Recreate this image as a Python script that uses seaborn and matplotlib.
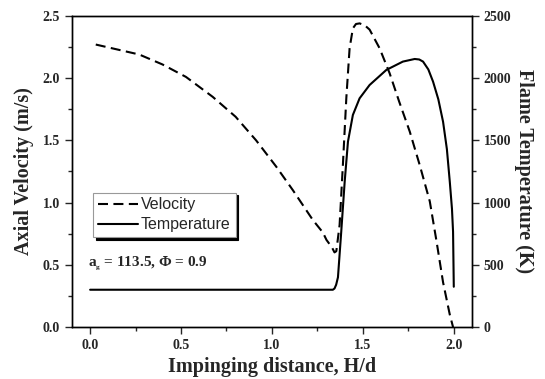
import numpy as np
import pandas as pd
import seaborn as sns
import matplotlib
matplotlib.use("Agg")
import matplotlib.pyplot as plt
from matplotlib.ticker import MultipleLocator

sns.set_style("ticks")
plt.rcParams['font.family'] = ['Liberation Serif', 'DejaVu Serif']
plt.rcParams['mathtext.fontset'] = 'custom'
plt.rcParams['mathtext.rm'] = 'Liberation Serif:bold'
plt.rcParams['mathtext.it'] = 'Liberation Serif:bold'
plt.rcParams['mathtext.bf'] = 'Liberation Serif:bold'

# Velocity (m/s) vs H/d
vel_x = [0.031, 0.27, 0.398, 0.527, 0.674, 0.80, 0.913, 1.023, 1.115, 1.225, 1.28, 1.30,
         1.33, 1.344, 1.354, 1.372, 1.39, 1.409, 1.427, 1.445, 1.462, 1.482, 1.51,
         1.537, 1.592, 1.647, 1.70, 1.758, 1.813, 1.868, 1.905, 1.941, 1.978, 1.996]
vel_y = [2.27, 2.19, 2.11, 2.01, 1.85, 1.69, 1.50, 1.29, 1.10, 0.86, 0.76, 0.70,
         0.64, 0.60, 0.61, 0.82, 1.30, 1.84, 2.24, 2.40, 2.435, 2.44, 2.425,
         2.39, 2.24, 2.04, 1.81, 1.57, 1.30, 1.01, 0.69, 0.36, 0.10, 0.0]

# Flame temperature (K) vs H/d
temp_x = [0.0, 0.5, 1.0, 1.335, 1.344, 1.353, 1.363, 1.381, 1.40, 1.418, 1.445, 1.482,
          1.537, 1.629, 1.72, 1.785, 1.81, 1.831, 1.86, 1.886, 1.915, 1.941, 1.962,
          1.978, 1.99, 1.996, 2.0]
temp_y = [300, 300, 300, 300, 310, 340, 400, 766, 1168, 1490, 1704, 1838,
          1945, 2066, 2133, 2154, 2150, 2133, 2070, 1972, 1830, 1650, 1430,
          1168, 950, 766, 324]

vel_df = pd.DataFrame({"H/d": vel_x, "Velocity": vel_y})
temp_df = pd.DataFrame({"H/d": temp_x, "Temperature": temp_y})

fig = plt.figure(figsize=(5.45, 3.79), dpi=100)
ax = fig.add_axes([0.132, 0.137, 0.734, 0.821])
ax2 = ax.twinx()

sns.lineplot(data=vel_df, x="H/d", y="Velocity", ax=ax, color="black",
             linewidth=1.5, label="Velocity", legend=False, sort=False)
ax.lines[0].set_dashes([4.8, 2.6])
sns.lineplot(data=temp_df, x="H/d", y="Temperature", ax=ax2, color="black",
             linewidth=1.5, label="Temperature", legend=False, sort=False)

ax.xaxis.set_minor_locator(MultipleLocator(0.25))
ax.yaxis.set_minor_locator(MultipleLocator(0.25))
ax2.yaxis.set_minor_locator(MultipleLocator(250))

for a in (ax, ax2):
    for s in a.spines.values():
        s.set_visible(True)
        s.set_linewidth(1.0)
        s.set_color("black")
    a.tick_params(which="major", direction="out", length=5, width=1, labelsize=10)
    a.tick_params(which="minor", direction="out", length=3, width=1)

xt = [0.0, 0.5, 1.0, 1.5, 2.0]
yt = [0.0, 0.5, 1.0, 1.5, 2.0, 2.5]
tt = [0, 500, 1000, 1500, 2000, 2500]
ax.set_xticks(xt)
ax.set_xticklabels([f"{v:.1f}" for v in xt], fontweight="bold")
ax.set_yticks(yt)
ax.set_yticklabels([f"{v:.1f}" for v in yt], fontweight="bold")
ax2.set_yticks(tt)
ax2.set_yticklabels([f"{v}" for v in tt], fontweight="bold")
ax.set_xlim(-0.1, 2.1)
ax.set_ylim(0, 2.5)
ax2.set_ylim(0, 2500)

ax.set_xlabel("Impinging distance, H/d", fontsize=14.5, fontweight="bold", labelpad=4)
ax.set_ylabel("Axial Velocity (m/s)", fontsize=14.5, fontweight="bold", labelpad=6)
ax2.set_ylabel("Flame Temperature (K)", fontsize=14.5, fontweight="bold",
               rotation=270, labelpad=16)

h1 = ax.lines[0]
h2 = ax2.lines[0]
leg = ax.legend([h1, h2], ["Velocity", "Temperature"], loc="upper left",
                bbox_to_anchor=(0.053, 0.432), frameon=True, fancybox=False,
                shadow={"color": "black", "alpha": 1.0},
                prop={"family": "Liberation Sans", "size": 11.5},
                handlelength=2.5, handletextpad=0.2, borderpad=0.3,
                labelspacing=0.3, framealpha=1, edgecolor="#999999",
                borderaxespad=0)
leg.get_frame().set_linewidth(0.8)
leg.set_zorder(10)

ax.text(0.041, 0.194, r"$a_{_g}$ = 113.5, Φ = 0.9", transform=ax.transAxes,
        fontsize=11, fontweight="bold")

fig.savefig("out.png", dpi=100)
